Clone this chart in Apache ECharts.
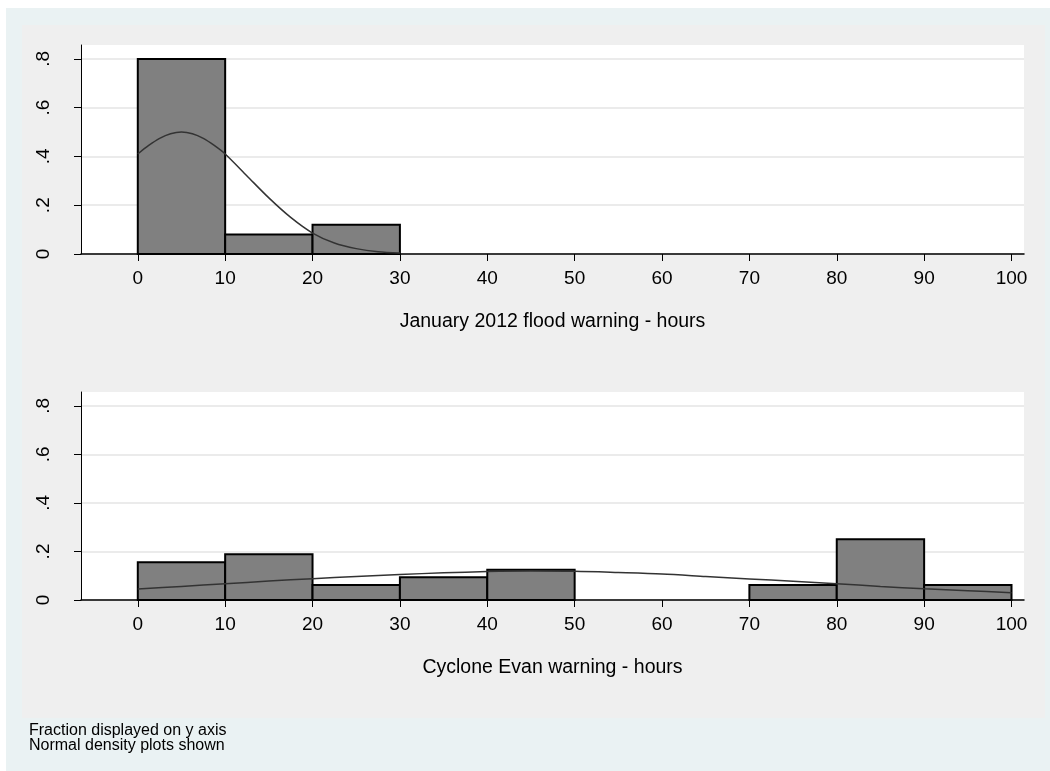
<!DOCTYPE html>
<html><head><meta charset="utf-8">
<script src="https://cdn.jsdelivr.net/npm/echarts@6/dist/echarts.min.js"></script>
<style>html,body{margin:0;padding:0;background:#fff}#c{width:1050px;height:771px}</style>
</head><body><div id="c"></div>
<script>
// ---- data ----
const binEdgesTop = [0, 10, 20, 30];
const fracTop = [0.80, 0.08, 0.12];
const curveXTop = [0, 1.25, 2.5, 3.75, 5, 6.25, 7.5, 8.75, 10, 12.5, 15, 17.5, 20, 22.5, 25, 27.5, 30];
const curveYTop = [0.41, 0.445, 0.474, 0.493, 0.50, 0.493, 0.474, 0.445, 0.41, 0.32, 0.23, 0.15, 0.086, 0.045, 0.022, 0.009, 0.004];

const binEdgesBottom = [0, 10, 20, 30, 40, 50, 60, 70, 80, 90, 100];
const fracBottom = [0.156, 0.188, 0.062, 0.094, 0.125, 0, 0, 0.062, 0.25, 0.062];
const curveXBottom = [0, 5, 10, 15, 20, 25, 30, 35, 40, 45, 50, 55, 60, 65, 70, 75, 80, 85, 90, 95, 100];
const curveYBottom = [0.045, 0.056, 0.067, 0.078, 0.088, 0.097, 0.105, 0.112, 0.117, 0.119, 0.118, 0.113, 0.107, 0.097, 0.087, 0.077, 0.067, 0.056, 0.046, 0.038, 0.030];

const xTicks = [0, 10, 20, 30, 40, 50, 60, 70, 80, 90, 100];
const yTicks = [0, 0.2, 0.4, 0.6, 0.8];
const yTickLabels = ['0', '.2', '.4', '.6', '.8'];
const titleTop = 'January 2012 flood warning - hours';
const titleBottom = 'Cyclone Evan warning - hours';
const noteLines = ['Fraction displayed on y axis', 'Normal density plots shown'];

// ---- build ----
const FONT = "'Liberation Sans', Arial, Helvetica, sans-serif";
function bins(edges, vals) {
  const out = [];
  for (let i = 0; i < vals.length; i++) if (vals[i] > 0) out.push([edges[i], edges[i + 1], vals[i]]);
  return out;
}
function zip(xs, ys) { return xs.map((x, i) => [x, ys[i]]); }
function renderBin(params, api) {
  const p0 = api.coord([api.value(0), api.value(2)]);
  const p1 = api.coord([api.value(1), 0]);
  return {
    type: 'rect',
    shape: { x: p0[0], y: p0[1], width: p1[0] - p0[0], height: p1[1] - p0[1] },
    style: { fill: '#808080', stroke: '#000', lineWidth: 2 }
  };
}
function xAxisFor(idx, name) {
  return {
    type: 'value', gridIndex: idx, min: -6.5, max: 101.43,
    name: name, nameLocation: 'middle', nameGap: 58,
    nameTextStyle: { fontFamily: FONT, fontSize: 19.5, color: '#000' },
    axisLine: { show: true, onZero: false, lineStyle: { color: '#000', width: 1.5 } },
    axisTick: { show: true, length: 7, customValues: xTicks, lineStyle: { color: '#000' } },
    axisLabel: { customValues: xTicks, margin: 15, fontFamily: FONT, fontSize: 19, color: '#000' },
    splitLine: { show: false }
  };
}
function yAxisFor(idx) {
  return {
    type: 'value', gridIndex: idx, min: 0, max: 0.857,
    axisLine: { show: true, onZero: false, lineStyle: { color: '#000', width: 1 } },
    axisTick: { show: true, length: 7, customValues: yTicks, lineStyle: { color: '#000' } },
    axisLabel: {
      customValues: yTicks, rotate: 90, margin: 28, fontFamily: FONT, fontSize: 19, color: '#000',
      formatter: v => { const i = yTicks.findIndex(t => Math.abs(t - v) < 1e-6); return i >= 0 ? yTickLabels[i] : ''; }
    },
    splitLine: { show: true, lineStyle: { color: '#e4e4e4', width: 1.5 } }
  };
}

const chart = echarts.init(document.getElementById('c'), null, { renderer: 'canvas' });
chart.setOption({
  animation: false,
  backgroundColor: '#EAF2F3',
  graphic: [
    { type: 'rect', z: -10, silent: true, shape: { x: 0, y: 0, width: 1050, height: 8 }, style: { fill: '#fff' } },
    { type: 'rect', z: -10, silent: true, shape: { x: 0, y: 0, width: 6, height: 771 }, style: { fill: '#fff' } },
    { type: 'rect', z: -10, silent: true, shape: { x: 22, y: 25, width: 1023, height: 693 }, style: { fill: '#EFEFEF' } },
    { type: 'text', left: 29, top: 723, silent: true,
      style: { text: noteLines.join('\n'), font: '16px ' + FONT, lineHeight: 15, fill: '#000' } }
  ],
  grid: [
    { left: 81, right: 26, top: 45, bottom: 517, show: true, backgroundColor: '#fff', borderWidth: 0 },
    { left: 81, right: 26, top: 392, bottom: 171, show: true, backgroundColor: '#fff', borderWidth: 0 }
  ],
  xAxis: [xAxisFor(0, titleTop), xAxisFor(1, titleBottom)],
  yAxis: [yAxisFor(0), yAxisFor(1)],
  series: [
    { type: 'custom', xAxisIndex: 0, yAxisIndex: 0, renderItem: renderBin, encode: { x: [0, 1], y: 2 }, data: bins(binEdgesTop, fracTop), z: 2 },
    { type: 'line', xAxisIndex: 0, yAxisIndex: 0, data: zip(curveXTop, curveYTop), smooth: 0.3, showSymbol: false,
      lineStyle: { color: '#333', width: 1.5 }, z: 3 },
    { type: 'custom', xAxisIndex: 1, yAxisIndex: 1, renderItem: renderBin, encode: { x: [0, 1], y: 2 }, data: bins(binEdgesBottom, fracBottom), z: 2 },
    { type: 'line', xAxisIndex: 1, yAxisIndex: 1, data: zip(curveXBottom, curveYBottom), smooth: 0.3, showSymbol: false,
      lineStyle: { color: '#333', width: 1.5 }, z: 3 }
  ]
});
</script></body></html>
